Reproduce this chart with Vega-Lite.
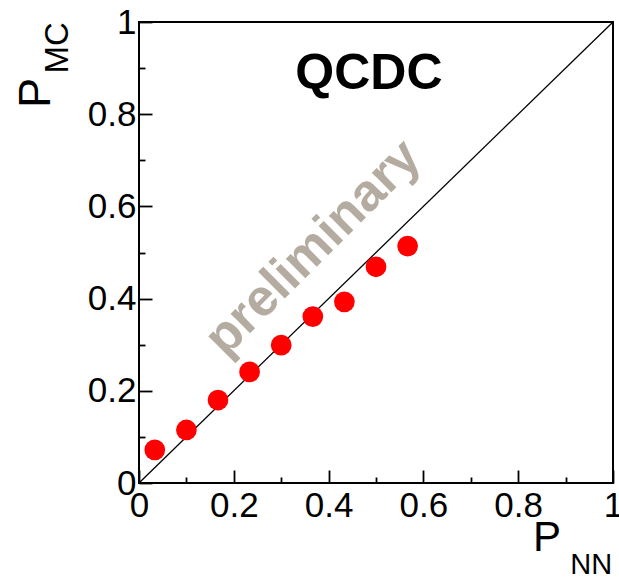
{
  "$schema": "https://vega.github.io/schema/vega-lite/v6.json",
  "width": 474,
  "height": 461,
  "autosize": {"type": "none"},
  "padding": {"left": 139, "top": 22, "right": 6, "bottom": 97},
  "background": "white",
  "config": {
    "font": "Liberation Sans",
    "view": {"stroke": "black", "strokeWidth": 2},
    "axis": {
      "domain": false,
      "grid": false,
      "title": null,
      "values": [0, 0.05, 0.1, 0.15, 0.2, 0.25, 0.3, 0.35, 0.4, 0.45, 0.5, 0.55, 0.6, 0.65, 0.7, 0.75, 0.8, 0.85, 0.9, 0.95, 1],
      "labelExpr": "round(datum.value * 20) % 4 == 0 ? format(datum.value, '~g') : ''",
      "labelFont": "Liberation Sans",
      "labelFontSize": 35,
      "labelColor": "black",
      "labelOverlap": false,
      "labelFlush": false,
      "labelBound": false,
      "tickColor": "black",
      "tickWidth": 1.8,
      "tickSize": {"condition": {"test": "round(datum.value * 20) % 4 == 0", "value": -13}, "value": -6}
    },
    "axisX": {"labelPadding": 18},
    "axisY": {"labelPadding": 16}
  },
  "datasets": {
    "purity": [
      {"pnn": 0.0333, "pmc": 0.072},
      {"pnn": 0.1, "pmc": 0.115},
      {"pnn": 0.1667, "pmc": 0.18},
      {"pnn": 0.2333, "pmc": 0.241},
      {"pnn": 0.3, "pmc": 0.299},
      {"pnn": 0.3667, "pmc": 0.361},
      {"pnn": 0.4333, "pmc": 0.393},
      {"pnn": 0.5, "pmc": 0.469},
      {"pnn": 0.5667, "pmc": 0.514}
    ],
    "diagonal": [
      {"pnn": 0, "pmc": 0},
      {"pnn": 1, "pmc": 1}
    ]
  },
  "layer": [
    {
      "data": {"name": "diagonal"},
      "mark": {"type": "line", "color": "black", "strokeWidth": 1.3},
      "encoding": {
        "x": {"field": "pnn", "type": "quantitative", "scale": {"domain": [0, 1], "nice": false, "zero": false}},
        "y": {"field": "pmc", "type": "quantitative", "scale": {"domain": [0, 1], "nice": false, "zero": false}}
      }
    },
    {
      "data": {"name": "purity"},
      "mark": {"type": "circle", "color": "#ff0000", "opacity": 1, "size": 430},
      "encoding": {
        "x": {"field": "pnn", "type": "quantitative"},
        "y": {"field": "pmc", "type": "quantitative"}
      }
    },
    {
      "data": {"values": [{"label": "preliminary"}]},
      "mark": {"type": "text", "angle": -45, "fontSize": 52, "fontWeight": "bold", "color": "#b5aca1", "align": "center", "baseline": "middle"},
      "encoding": {
        "x": {"datum": 0.367},
        "y": {"datum": 0.51},
        "text": {"field": "label"}
      }
    },
    {
      "data": {"values": [{"label": "QCDC"}]},
      "mark": {"type": "text", "fontSize": 50, "fontWeight": "bold", "color": "black", "align": "center", "baseline": "middle"},
      "encoding": {
        "x": {"datum": 0.485},
        "y": {"datum": 0.887},
        "text": {"field": "label"}
      }
    },
    {
      "data": {"values": [{"label": "P"}]},
      "mark": {"type": "text", "fontSize": 42, "color": "black", "align": "center", "baseline": "middle"},
      "encoding": {
        "x": {"datum": 0.861},
        "y": {"datum": -0.119},
        "text": {"field": "label"}
      }
    },
    {
      "data": {"values": [{"label": "NN"}]},
      "mark": {"type": "text", "fontSize": 29, "color": "black", "align": "center", "baseline": "middle"},
      "encoding": {
        "x": {"datum": 0.954},
        "y": {"datum": -0.178},
        "text": {"field": "label"}
      }
    },
    {
      "data": {"values": [{"label": "P"}]},
      "mark": {"type": "text", "fontSize": 45, "angle": -90, "color": "black", "align": "center", "baseline": "middle"},
      "encoding": {
        "x": {"datum": -0.217},
        "y": {"datum": 0.846},
        "text": {"field": "label"}
      }
    },
    {
      "data": {"values": [{"label": "MC"}]},
      "mark": {"type": "text", "fontSize": 33, "angle": -90, "color": "black", "align": "center", "baseline": "middle"},
      "encoding": {
        "x": {"datum": -0.171},
        "y": {"datum": 0.944},
        "text": {"field": "label"}
      }
    }
  ]
}
